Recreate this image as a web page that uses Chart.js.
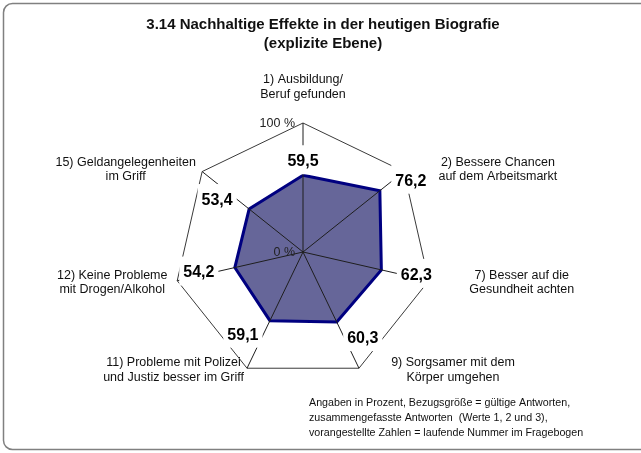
<!DOCTYPE html>
<html><head><meta charset="utf-8">
<script src="https://cdn.jsdelivr.net/npm/chart.js@4/dist/chart.umd.min.js"></script>
<style>html,body{margin:0;padding:0;background:#fff;}canvas{display:block;}</style>
</head><body>
<canvas id="c" width="641" height="453"></canvas>
<script>
// ---- data ----
const categories = [
  ["1) Ausbildung/", "Beruf gefunden"],
  ["2) Bessere Chancen", "auf dem Arbeitsmarkt"],
  ["7) Besser auf die", "Gesundheit achten"],
  ["9) Sorgsamer mit dem", "Körper umgehen"],
  ["11) Probleme mit Polizei", "und Justiz besser im Griff"],
  ["12) Keine Probleme", "mit Drogen/Alkohol"],
  ["15) Geldangelegenheiten", "im Griff"]
];
const values = [59.5, 76.2, 62.3, 60.3, 59.1, 54.2, 53.4];
const tickLabels = ["0 %", "100 %"];
const titleLines = ["3.14 Nachhaltige Effekte in der heutigen Biografie", "(explizite Ebene)"];
const footnoteLines = [
  "Angaben in Prozent, Bezugsgröße = gültige Antworten,",
  "zusammengefasste Antworten  (Werte 1, 2 und 3),",
  "vorangestellte Zahlen = laufende Nummer im Fragebogen"
];

// ---- label placement (offsets from scale positions) ----
const valueLabelOffsets = [[0,-14],[31,-10],[35,5],[26,16],[-27,14],[-36,5],[-32,-9]];
const pointLabelOffsets = [[0,-36],[94,-2],[93,2],[94,2],[-73.5,2],[-65,2],[-76.5,-2]];

const FONT = "'Liberation Sans', Arial, sans-serif";

const overlay = {
  id: 'overlay',
  beforeDraw(chart) {
    const ctx = chart.ctx;
    ctx.save();
    ctx.fillStyle = '#fff';
    ctx.fillRect(0, 0, chart.width, chart.height);
    ctx.strokeStyle = '#808080';
    ctx.lineWidth = 1.5;
    ctx.beginPath();
    ctx.roundRect(3.5, 3.5, 720, 446, 9);
    ctx.stroke();
    ctx.restore();
  },
  afterDatasetsDraw(chart) {
    const ctx = chart.ctx;
    const r = chart.scales.r;
    const n = categories.length;
    ctx.save();
    // spokes over the fill
    ctx.strokeStyle = '#1e1e1e';
    ctx.lineWidth = 1;
    for (let i = 0; i < n; i++) {
      const p = r.getPointPosition(i, r.drawingArea);
      ctx.beginPath();
      ctx.moveTo(r.xCenter, r.yCenter);
      ctx.lineTo(p.x, p.y);
      ctx.stroke();
    }
    // value labels with white boxes
    const meta = chart.getDatasetMeta(0);
    ctx.font = "bold 16px " + FONT;
    ctx.textAlign = 'center';
    ctx.textBaseline = 'middle';
    meta.data.forEach((pt, i) => {
      const txt = values[i].toFixed(1).replace('.', ',');
      const cx = pt.x + valueLabelOffsets[i][0];
      const cy = pt.y + valueLabelOffsets[i][1];
      const w = ctx.measureText(txt).width;
      ctx.fillStyle = '#fff';
      ctx.fillRect(cx - w / 2 - 4, cy - 16, w + 8, 29);
      ctx.fillStyle = '#000';
      ctx.fillText(txt, cx, cy + 0.5);
    });
    // tick labels
    ctx.font = "12.5px " + FONT;
    ctx.textAlign = 'right';
    ctx.fillStyle = '#222';
    ctx.fillText(tickLabels[0], r.xCenter - 8, r.yCenter + 1);
    const top = r.getPointPosition(0, r.getDistanceFromCenterForValue(100));
    ctx.fillText(tickLabels[1], top.x - 8, top.y + 1);
    // point labels
    ctx.fillStyle = '#111';
    ctx.textAlign = 'center';
    for (let i = 0; i < n; i++) {
      const p = r.getPointPosition(i, r.drawingArea);
      const cx = p.x + pointLabelOffsets[i][0];
      const cy = p.y + pointLabelOffsets[i][1];
      const lines = categories[i];
      const lh = 14.5;
      lines.forEach((l, k) => {
        ctx.fillText(l, cx, cy + (k - (lines.length - 1) / 2) * lh);
      });
    }
    // title
    ctx.fillStyle = '#111';
    ctx.font = "bold 15px " + FONT;
    titleLines.forEach((l, k) => ctx.fillText(l, 323, 25 + k * 19));
    // footnote
    ctx.font = "10.7px " + FONT;
    ctx.textAlign = 'left';
    footnoteLines.forEach((l, k) => ctx.fillText(l, 309, 403.5 + k * 15));
    ctx.restore();
  }
};

new Chart(document.getElementById('c'), {
  type: 'radar',
  data: {
    labels: categories,
    datasets: [{
      data: values,
      backgroundColor: 'rgb(102,102,153)',
      borderColor: '#000080',
      borderWidth: 3,
      pointRadius: 0,
      pointHoverRadius: 0,
      fill: true,
      tension: 0
    }]
  },
  options: {
    responsive: false,
    animation: false,
    devicePixelRatio: 1,
    layout: { padding: { left: 174, right: 209, top: 123, bottom: 72 } },
    plugins: { legend: { display: false }, tooltip: { enabled: false }, title: { display: false } },
    scales: {
      r: {
        min: 0, max: 100,
        ticks: { display: false, stepSize: 100 },
        pointLabels: { display: false },
        angleLines: { display: false },
        grid: { color: '#3a3a3a', lineWidth: 1 }
      }
    }
  },
  plugins: [overlay]
});
</script>
</body></html>
